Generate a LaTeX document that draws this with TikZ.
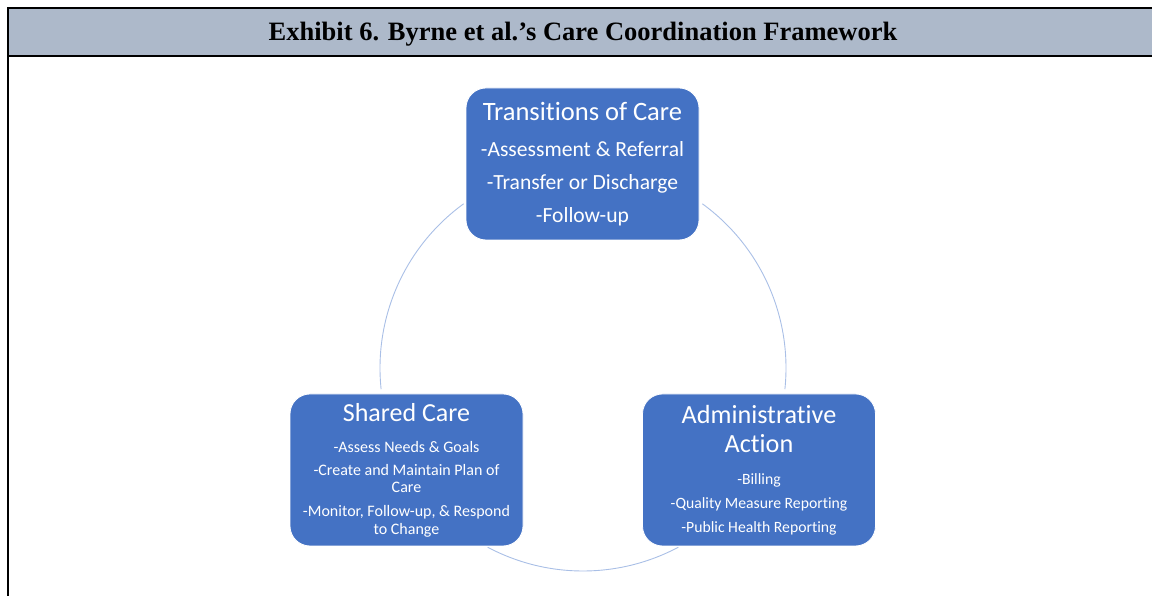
\documentclass[tikz,border=0pt]{standalone}
\usepackage{fontspec}
\setmainfont{Carlito}[Ligatures={NoCommon,NoRare,NoDiscretionary}]
\newfontfamily\titlefont{Liberation Serif}
\definecolor{boxblue}{HTML}{4472C4}
\definecolor{headgray}{HTML}{ADB9CA}
\definecolor{ringblue}{HTML}{A9BFE6}
\tikzset{
  cbox/.style={rectangle, rounded corners=20pt, fill=boxblue, draw=white, line width=0.8pt,
    minimum width=233pt, minimum height=152pt, inner sep=0pt, align=center, text=white},
  ring/.style={draw=ringblue, line width=0.9pt},
  frameline/.style={draw=black, line width=2pt}
}
\begin{document}
\begin{tikzpicture}[x=1pt,y=1pt]
\useasboundingbox (0,0) rectangle (1152,596);
% header
\fill[headgray] (8,588) rectangle (1152,540);
\node[font=\titlefont\bfseries\fontsize{26.5}{30}\selectfont] (title) at (583,561.5) {Exhibit 6. Byrne et al.’s Care Coordination Framework};
\draw[frameline] (1152,588) -- (8,588) -- (8,0);
\draw[frameline] (8,540) -- (1152,540);
% ring
\coordinate (c) at (583,228);
\draw[ring] (c) ++(54:203) arc[start angle=54, end angle=-6, radius=203];
\draw[ring] (c) ++(126:203) arc[start angle=126, end angle=186, radius=203];
\draw[ring] (c) ++(242:203) arc[start angle=242, end angle=298, radius=203];
% boxes
\node[cbox, font=\fontsize{21.6}{33}\selectfont] (toc) at (582.5,432)
  {{\fontsize{26.5}{30}\selectfont Transitions of Care}\\[3.5pt]
   -Assessment \& Referral\\
   -Transfer or Discharge\\
   -Follow-up};
\node[cbox, font=\fontsize{16}{17.5}\selectfont] (shared) at (406.5,126)
  {{\fontsize{26}{29}\selectfont Shared Care}\\[13.3pt]
   -Assess Needs \& Goals\\[5.5pt]
   -Create and Maintain Plan of\\
   Care\\[6.5pt]
   -Monitor, Follow-up, \& Respond\\
   to Change};
\node[cbox, font=\fontsize{15.7}{24}\selectfont] (admin) at (759,126)
  {{\fontsize{26.2}{29}\selectfont Administrative}\\[5pt]
   {\fontsize{26.2}{29}\selectfont Action}\\[7.6pt]
   -Billing\\
   -Quality Measure Reporting\\
   -Public Health Reporting};
\end{tikzpicture}
\end{document}
